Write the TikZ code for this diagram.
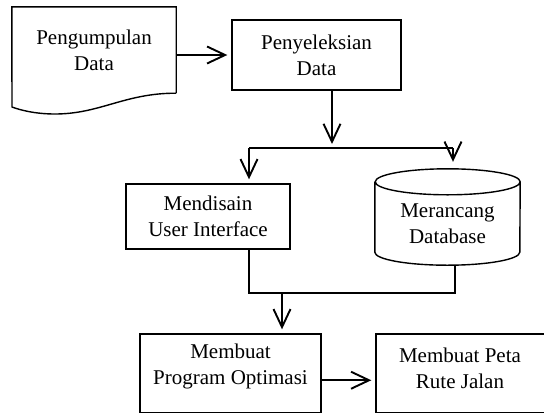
\documentclass[tikz,border=0pt]{standalone}
\usepackage{fontspec}
\setmainfont{Liberation Serif}
\newfontfamily\diagfont{Liberation Serif}
\usetikzlibrary{arrows.meta, calc}

\begin{document}
\begin{tikzpicture}[x=1pt, y=-1pt,
		every node/.style={font=\diagfont\fontsize{21}{26}\selectfont, align=center, inner sep=0pt},
		stepbox/.style={draw, line width=1.4pt},
		conn/.style={line width=1.9pt},
		arr/.style={conn, -{Straight Barb[length=18pt, width=17pt]}, shorten >=4pt}]
		
		\useasboundingbox (0,0) rectangle (544,413);
		
		% Dokumen
		\node[minimum width=164pt, minimum height=86pt] (doc) at (94,50) {Pengumpulan\\Data};
		\draw[line width=1.4pt] (doc.south east) -- (doc.north east) -- (doc.north west) -- (12,107)
		.. controls (20,110) and (35,114) .. (55,114)
		.. controls (100,114) and (125,93) .. (doc.south east);
		
		% Kotak proses
		\node[stepbox, minimum width=169pt, minimum height=70pt] (sel) at (316.5,55) {Penyeleksian\\Data};
		\node[stepbox, minimum width=164pt, minimum height=65pt] (ui) at (208,216.5) {Mendisain\\User Interface};
		
		% Database
		\node[minimum width=145pt, minimum height=96pt] (db) at (447.5,217) {};
		\node (dbtxt) at (447.5,224) {Merancang\\Database};
		\draw[line width=1.4pt] ([yshift=-13pt]db.north west) -- ([yshift=13pt]db.south west)
		arc[start angle=180, end angle=360, x radius=72.5pt, y radius=13pt]
		-- ([yshift=-13pt]db.north east)
		arc[start angle=0, end angle=360, x radius=72.5pt, y radius=13pt];
		
		\node[stepbox, minimum width=181pt, minimum height=78.5pt] (prog) at (230.5,373.25) {};
		\node (progtxt) at (230.5,366) {Membuat\\Program Optimasi};
		\node[stepbox, minimum width=172pt, minimum height=78.5pt] (peta) at (462,373.25) {};
		\node (petatxt) at (460,368) {Membuat Peta\\Rute Jalan};
		
		% Titik bantu
		\coordinate (fork) at (332,148);
		\coordinate (join) at (282,293);
		\coordinate (uitop) at ([xshift=41pt]ui.north);
		\coordinate (uibot) at ([xshift=41pt]ui.south);
		\coordinate (dbtop) at ([xshift=5.5pt]db.north);
		\coordinate (dbbot) at ([xshift=7.5pt]db.south);
		
		% Panah
		\draw[arr] (sel.west -| doc.east) -- (sel.west);
		\draw[arr] (fork |- sel.south) -- (fork);
		\draw[conn] (fork -| uitop) -- (fork -| dbtop);
		\draw[arr] (fork -| uitop) -- (uitop);
		\draw[arr, shorten >=7pt] (fork -| dbtop) -- (dbtop);
		\draw[conn] (uibot) -- (uibot |- join) -- (dbbot |- join) -- (dbbot);
		\draw[arr] (join) -- (join |- prog.north);
		\draw[arr] ([yshift=-7pt]prog.east) -- ([yshift=-7pt]peta.west);
		
	\end{tikzpicture}
\end{document}
